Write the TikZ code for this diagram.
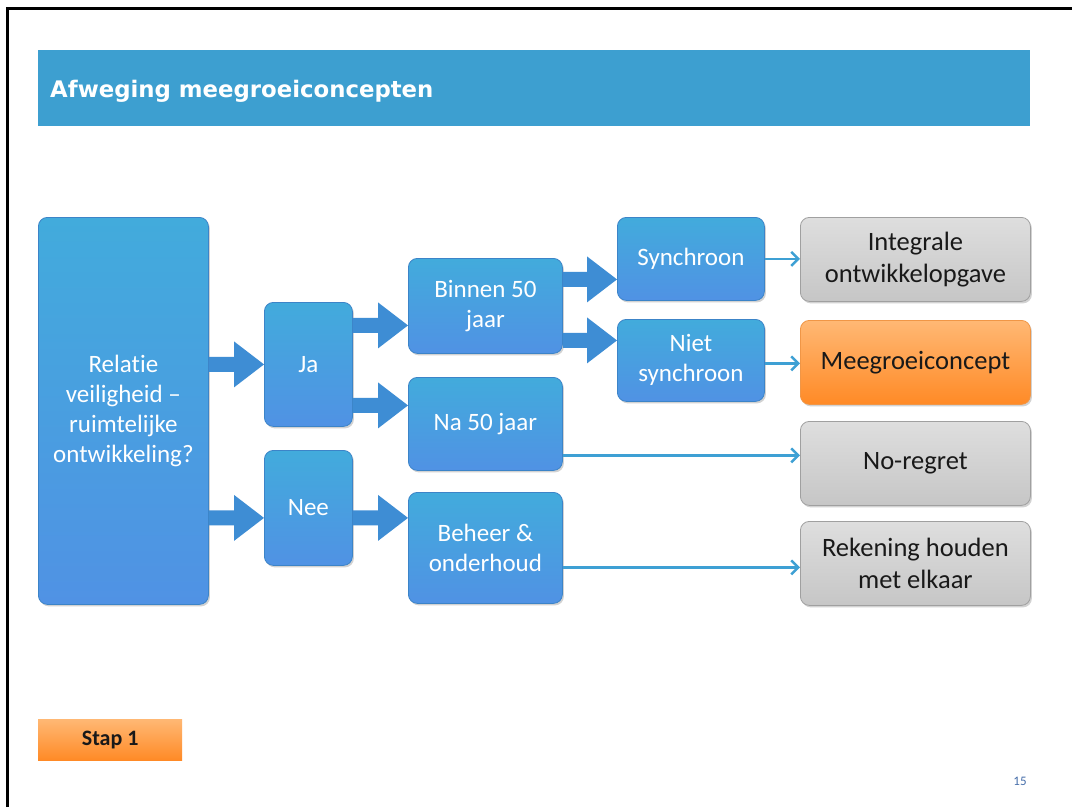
\documentclass[tikz,border=0pt]{standalone}
\usepackage{fontspec}
\setmainfont{Carlito}[Ligatures=NoCommon]
\newfontfamily\titlefont{DejaVu Sans}
\usetikzlibrary{calc,arrows.meta,shadows}
\definecolor{titlebar}{RGB}{61,159,208}
\definecolor{bluetop}{RGB}{66,171,220}
\definecolor{bluebot}{RGB}{80,146,228}
\definecolor{blueedge}{RGB}{60,132,200}
\definecolor{barcol}{RGB}{62,141,212}
\definecolor{thincol}{RGB}{62,160,212}
\definecolor{graytop}{RGB}{222,222,222}
\definecolor{graybot}{RGB}{198,198,198}
\definecolor{grayedge}{RGB}{160,160,160}
\definecolor{orangetop}{RGB}{255,184,116}
\definecolor{orangebot}{RGB}{255,138,38}
\definecolor{orangeedge}{RGB}{240,150,70}
\definecolor{pagenum}{RGB}{70,110,170}
\definecolor{darktext}{RGB}{25,25,25}
\newcommand\barrowpath[2]{%
  \fill[barcol] ($(#1)+(0,-7.5)$) -- ($(#2)+(-30,-7.5)$) -- ($(#2)+(-30,-23)$) -- (#2)
    -- ($(#2)+(-30,23)$) -- ($(#2)+(-30,7.5)$) -- ($(#1)+(0,7.5)$) -- cycle;}
\tikzset{
  boxbase/.style={anchor=north west, rounded corners=9pt, inner sep=0pt, align=center,
    drop shadow={opacity=0.25, shadow xshift=1.5pt, shadow yshift=-2pt, fill=black!70}},
  bluebox/.style={boxbase, top color=bluetop, bottom color=bluebot, draw=blueedge, line width=0.8pt,
    text=white, font=\fontsize{25}{30}\selectfont},
  graybox/.style={boxbase, top color=graytop, bottom color=graybot, draw=grayedge, line width=0.8pt,
    text=darktext, font=\fontsize{26.5}{32}\selectfont, minimum width=230pt, minimum height=84pt},
  orangebox/.style={boxbase, top color=orangetop, bottom color=orangebot, draw=orangeedge, line width=0.8pt,
    text=darktext, font=\fontsize{26.5}{32}\selectfont, minimum width=230pt, minimum height=84pt},
  thinarr/.style={draw=thincol, line width=2.5pt, -{Straight Barb[length=7pt,width=14pt]}},
}
\begin{document}
\begin{tikzpicture}[x=1pt,y=-1pt]
\useasboundingbox (0,0) rectangle (1072,807);
\fill[white] (0,0) rectangle (1072,807);
% slide frame
\draw[line width=3pt] (7,807) -- (7,8) -- (1072,8);
% title
\node[anchor=north west, fill=titlebar, minimum width=992pt, minimum height=76pt, inner sep=0pt] (bar) at (38,50) {};
\node[anchor=west, text=white, font=\titlefont\bfseries\fontsize{22.8}{26}\selectfont, inner sep=0pt] (title) at (50,91) {Afweging meegroeiconcepten};
% boxes
\node[bluebox, minimum width=170pt, minimum height=387pt] (rel) at (38,217) {Relat\kern0pt ie\\veiligheid --\\ruimtelijke\\ontwikkeling?};
\node[bluebox, minimum width=88pt, minimum height=124pt] (ja) at (264,302) {Ja};
\node[bluebox, minimum width=88pt, minimum height=115pt] (nee) at (264,450) {Nee};
\node[bluebox, minimum width=154pt, minimum height=95pt] (binnen) at (408,258) {Binnen 50\\jaar};
\node[bluebox, minimum width=154pt, minimum height=93pt] (na) at (408,377) {Na 50 jaar};
\node[bluebox, minimum width=154pt, minimum height=111pt] (beheer) at (408,492) {Beheer \&\\onderhoud};
\node[bluebox, minimum width=147pt, minimum height=83pt] (sync) at (617,217) {Synchroon};
\node[bluebox, minimum width=147pt, minimum height=82pt] (niet) at (617,319) {Niet\\synchroon};
\node[graybox] (int) at (800,217) {Integrale\\ontwikkelopgave};
\node[orangebox] (meeg) at (800,320) {Meegroeiconcept};
\node[graybox] (noreg) at (800,421) {No-regret};
\node[graybox] (rek) at (800,521) {Rekening houden\\met elkaar};
% block arrows
\coordinate (a1) at (rel.east |- ja.west);
\barrowpath{a1}{ja.west}
\coordinate (n1) at ([yshift=-10pt]nee.west);
\coordinate (a2) at (rel.east |- n1);
\barrowpath{a2}{n1}
\coordinate (j1) at ([yshift=39pt]ja.east);
\coordinate (j1e) at (j1 -| binnen.west);
\barrowpath{j1}{j1e}
\coordinate (j2) at ([yshift=-41pt]ja.east);
\coordinate (j2e) at (j2 -| na.west);
\barrowpath{j2}{j2e}
\coordinate (e1) at ([yshift=-10pt]nee.east);
\coordinate (e1e) at (e1 -| beheer.west);
\barrowpath{e1}{e1e}
\coordinate (b1) at ([yshift=26.5pt]binnen.east);
\coordinate (b1e) at (b1 -| sync.west);
\barrowpath{b1}{b1e}
\coordinate (b2) at ([yshift=-34.5pt]binnen.east);
\coordinate (b2e) at (b2 -| niet.west);
\barrowpath{b2}{b2e}
% thin arrows
\draw[thinarr] (sync.east) -- (sync.east -| int.west);
\draw[thinarr] ([yshift=-3pt]niet.east) -- ([yshift=-3pt]niet.east -| meeg.west);
\draw[thinarr] ([yshift=-31.5pt]na.east) -- ([yshift=-31.5pt]na.east -| noreg.west);
\draw[thinarr] ([yshift=-19.5pt]beheer.east) -- ([yshift=-19.5pt]beheer.east -| rek.west);
% footer
\node[anchor=north west, top color=orangetop, bottom color=orangebot, minimum width=144pt, minimum height=41pt, inner sep=0pt,
  font=\bfseries\fontsize{22}{26}\selectfont, text=darktext] (stap) at (38,719) {Stap 1};
\node[font=\fontsize{13}{15}\selectfont, text=pagenum, inner sep=0pt] (pnum) at (1020,781) {15};
\end{tikzpicture}
\end{document}
